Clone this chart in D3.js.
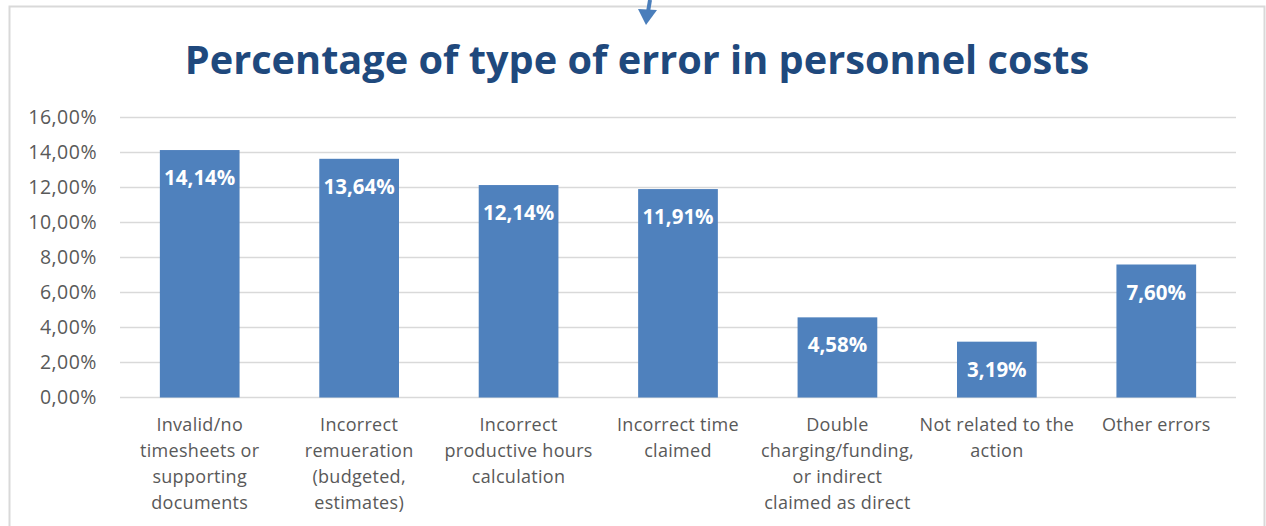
<!DOCTYPE html>
<html><head><meta charset="utf-8">
<script src="https://cdn.jsdelivr.net/npm/d3@7"></script>
<style>html,body{margin:0;padding:0;background:#fff;overflow:hidden}</style>
</head><body>
<svg id="chart" width="1266" height="526"></svg>
<script>
const title = "Percentage of type of error in personnel costs";
const categories = [
  "Invalid/no\ntimesheets or\nsupporting\ndocuments",
  "Incorrect\nremueration\n(budgeted,\nestimates)",
  "Incorrect\nproductive hours\ncalculation",
  "Incorrect time\nclaimed",
  "Double\ncharging/funding,\nor indirect\nclaimed as direct",
  "Not related to the\naction",
  "Other errors"
];
const values = [14.14, 13.64, 12.14, 11.91, 4.58, 3.19, 7.60];
const yTicks = [0, 2, 4, 6, 8, 10, 12, 14, 16];

const svg = d3.select("#chart");
const fmt = v => v.toFixed(2).replace(".", ",") + "%";
const font = "'Open Sans', 'Noto Sans', sans-serif";

// frame
svg.append("rect").attr("x", 9.5).attr("y", 6.5).attr("width", 1255).attr("height", 540)
  .attr("fill", "#fff").attr("stroke", "#d9d9d9").attr("stroke-width", 2);

// arrow at top
svg.append("line").attr("x1", 650).attr("y1", 0).attr("x2", 648).attr("y2", 12)
  .attr("stroke", "#4a7ebb").attr("stroke-width", 4);
svg.append("path").attr("d", "M638,9 L657,10 L646,25 Z").attr("fill", "#4a7ebb");

const x = d3.scaleBand().domain(d3.range(categories.length)).range([120, 1236]).paddingInner(0.5).paddingOuter(0.25);
const y = d3.scaleLinear().domain([0, 16]).range([397.5, 117.5]);

// gridlines
svg.append("g").selectAll("line").data(yTicks).join("line")
  .attr("x1", 120).attr("x2", 1236)
  .attr("y1", d => y(d)).attr("y2", d => y(d))
  .attr("stroke", "#d9d9d9").attr("stroke-width", 1.5);

// y axis labels
const yAxis = d3.axisLeft(y).tickValues(yTicks).tickFormat(fmt).tickSize(0).tickPadding(0);
const ya = svg.append("g").attr("transform", "translate(97,0)").call(yAxis);
ya.select(".domain").remove();
ya.selectAll("text").attr("fill", "#595959").attr("font-size", 19.5)
  .attr("letter-spacing", 0.5).attr("font-family", font);

// bars
svg.append("g").selectAll("rect").data(values).join("rect")
  .attr("x", (d, i) => x(i)).attr("width", x.bandwidth())
  .attr("y", d => y(d)).attr("height", d => y(0) - y(d))
  .attr("fill", "#4f81bd");

// data labels
svg.append("g").selectAll("text").data(values).join("text")
  .attr("x", (d, i) => x(i) + x.bandwidth() / 2)
  .attr("y", d => y(d) + 35)
  .attr("text-anchor", "middle")
  .attr("fill", "#fff").attr("font-weight", "bold")
  .attr("font-size", 20.5).attr("font-family", font)
  .text(fmt);

// category labels
const cg = svg.append("g").selectAll("text").data(categories).join("text")
  .attr("text-anchor", "middle")
  .attr("fill", "#595959").attr("font-size", 18).attr("letter-spacing", 0.3).attr("font-family", font);
cg.each(function(d, i) {
  const t = d3.select(this);
  d.split("\n").forEach((line, k) => {
    t.append("tspan").attr("x", x(i) + x.bandwidth() / 2).attr("y", 431 + k * 26).text(line);
  });
});

// title
svg.append("text").attr("x", 637).attr("y", 74)
  .attr("text-anchor", "middle").attr("fill", "#1f497d")
  .attr("font-weight", "bold").attr("font-size", 39.7).attr("font-family", font)
  .text(title);
</script>
</body></html>
